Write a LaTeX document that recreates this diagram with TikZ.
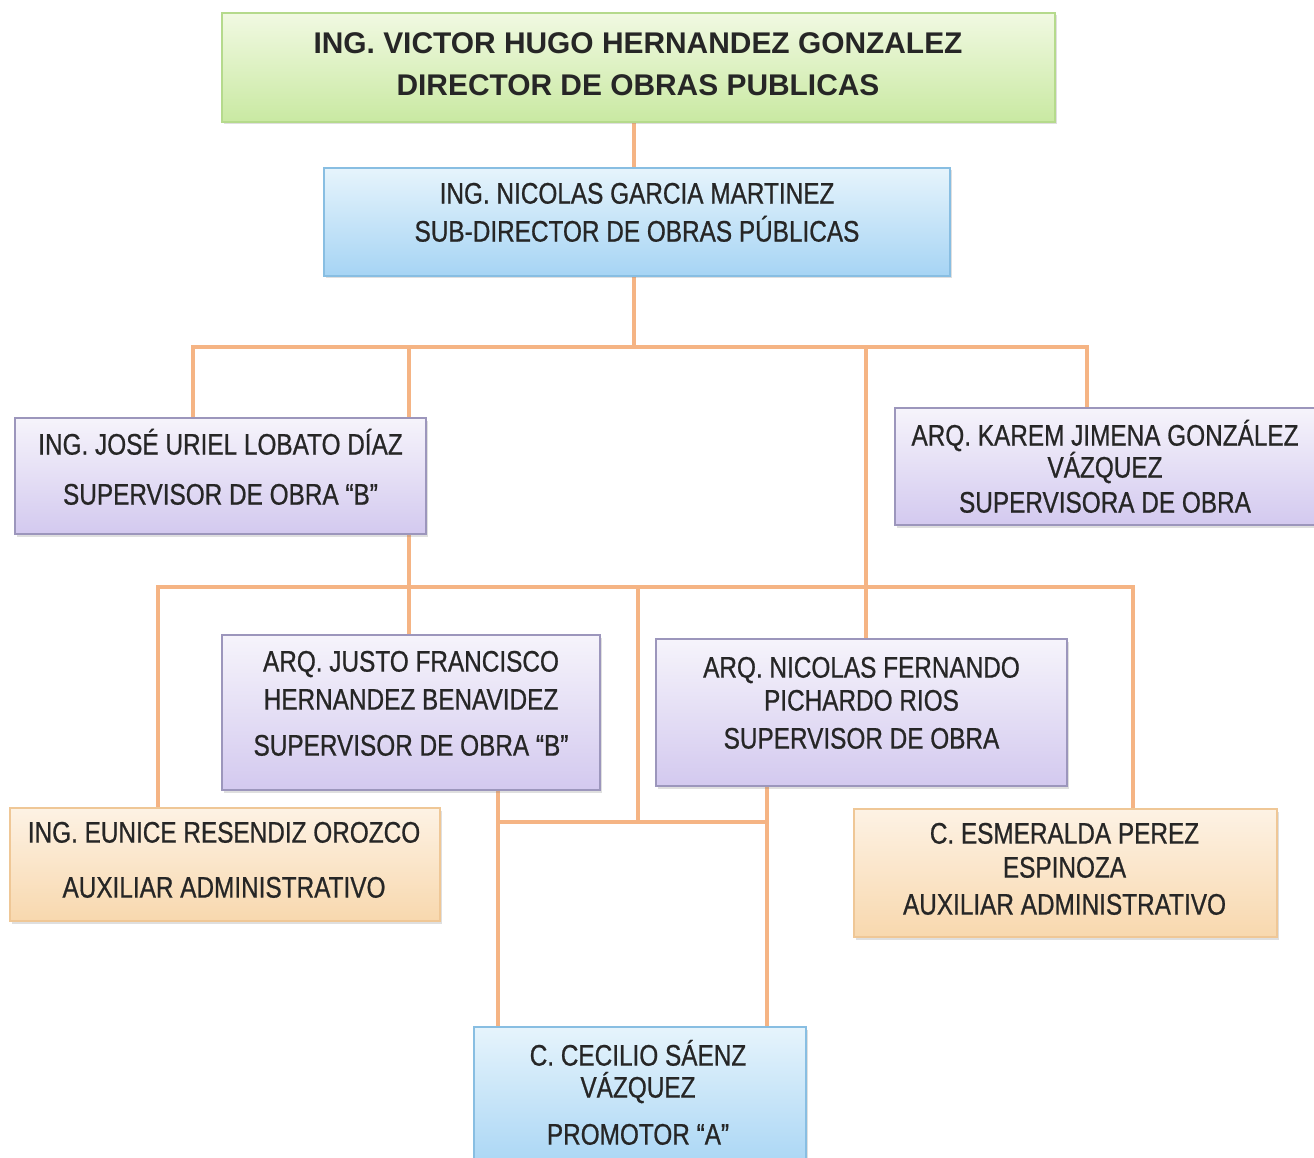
\documentclass[tikz,border=0pt]{standalone}
\usepackage{fontspec}
\setmainfont{Liberation Sans}[FakeStretch=0.82, FakeBold=0.7]
\newfontfamily\dirfont{Liberation Sans}
\usetikzlibrary{shadows,backgrounds}
\definecolor{connc}{HTML}{F5B484}
\definecolor{txtc}{HTML}{262626}
\definecolor{grnT}{HTML}{F1F9E2}
\definecolor{grnB}{HTML}{C9E9A2}
\definecolor{grnD}{HTML}{B5DA8C}
\definecolor{bluT}{HTML}{E6F4FC}
\definecolor{bluB}{HTML}{A6D4F4}
\definecolor{bluD}{HTML}{88BEE2}
\definecolor{purT}{HTML}{F6F4FB}
\definecolor{purB}{HTML}{D3C9EF}
\definecolor{purD}{HTML}{9C96BC}
\definecolor{orgT}{HTML}{FDF2E4}
\definecolor{orgB}{HTML}{F8D8AE}
\definecolor{orgD}{HTML}{EFC796}
\tikzset{
  box/.style={rectangle, line width=1.2pt, inner sep=0pt,
    drop shadow={shadow xshift=1.5pt, shadow yshift=-2.5pt, opacity=0.25}},
  greenbox/.style={box, draw=grnD, top color=grnT, bottom color=grnB},
  bluebox/.style={box, draw=bluD, top color=bluT, bottom color=bluB},
  purplebox/.style={box, draw=purD, top color=purT, bottom color=purB},
  orangebox/.style={box, draw=orgD, top color=orgT, bottom color=orgB},
  ln/.style={anchor=base, inner sep=0pt, text=txtc, font=\fontsize{29.7}{33}\selectfont},
  dln/.style={anchor=base, inner sep=0pt, text=txtc, font=\dirfont\bfseries\fontsize{29.9}{33}\selectfont},
  conn/.style={draw=connc, line width=3.5pt, line cap=rect},
}
\begin{document}
\begin{tikzpicture}[x=1pt, y=-1pt]
\clip (0,0) rectangle (1314,1158);

% boxes
\node[greenbox, minimum width=833pt, minimum height=109pt] (dir) at (638.5,67.5) {};
\node[bluebox, minimum width=626pt, minimum height=108pt] (sub) at (637,222) {};
\node[purplebox, minimum width=411pt, minimum height=116pt] (jose) at (220.5,476) {};
\node[purplebox, minimum width=425pt, minimum height=117pt] (karem) at (1107.5,466.5) {};
\node[purplebox, minimum width=378pt, minimum height=155pt] (justo) at (411,712.5) {};
\node[purplebox, minimum width=411pt, minimum height=147pt] (nic) at (861.5,712.5) {};
\node[orangebox, minimum width=430pt, minimum height=113pt] (eunice) at (225,864.5) {};
\node[orangebox, minimum width=423pt, minimum height=128pt] (esme) at (1065.5,873) {};
\node[bluebox, minimum width=332pt, minimum height=148pt] (cec) at (640,1101) {};

% text lines
\node[dln] (dir1) at (638,53.7) {ING. VICTOR HUGO HERNANDEZ GONZALEZ};
\node[dln] (dir2) at (638,95.7) {DIRECTOR DE OBRAS PUBLICAS};
\node[ln] (sub1) at (637,203.6) {ING. NICOLAS GARCIA MARTINEZ};
\node[ln] (sub2) at (637,241.6) {SUB-DIRECTOR DE OBRAS PÚBLICAS};
\node[ln] (jose1) at (220.5,454.6) {ING. JOSÉ URIEL LOBATO DÍAZ};
\node[ln] (jose2) at (220.5,504.6) {SUPERVISOR DE OBRA “B”};
\node[ln] (karem1) at (1105,445.6) {ARQ. KAREM JIMENA GONZÁLEZ};
\node[ln] (karem2) at (1105,477.6) {VÁZQUEZ};
\node[ln] (karem3) at (1105,512.6) {SUPERVISORA DE OBRA};
\node[ln] (justo1) at (411,671.6) {ARQ. JUSTO FRANCISCO};
\node[ln] (justo2) at (411,709.6) {HERNANDEZ BENAVIDEZ};
\node[ln] (justo3) at (411,755.6) {SUPERVISOR DE OBRA “B”};
\node[ln] (nic1) at (861.5,677.6) {ARQ. NICOLAS FERNANDO};
\node[ln] (nic2) at (861.5,710.6) {PICHARDO RIOS};
\node[ln] (nic3) at (861.5,748.6) {SUPERVISOR DE OBRA};
\node[ln] (eunice1) at (224,842.6) {ING. EUNICE RESENDIZ OROZCO};
\node[ln] (eunice2) at (224,897.6) {AUXILIAR ADMINISTRATIVO};
\node[ln] (esme1) at (1064.5,843.6) {C. ESMERALDA PEREZ};
\node[ln] (esme2) at (1064.5,877.6) {ESPINOZA};
\node[ln] (esme3) at (1064.5,914.6) {AUXILIAR ADMINISTRATIVO};
\node[ln] (cec1) at (638,1065.6) {C. CECILIO SÁENZ};
\node[ln] (cec2) at (638,1097.6) {VÁZQUEZ};
\node[ln] (cec3) at (638,1144.6) {PROMOTOR “A”};

% bus coordinates
\coordinate (b1w) at (193,347);
\coordinate (b1e) at (1087,347);
\coordinate (b2w) at (158,587);
\coordinate (b2e) at (1133,587);
\coordinate (b3w) at (498,822);
\coordinate (b3e) at (767,822);
\coordinate (xj) at (409,0);
\coordinate (xn) at (866,0);
\coordinate (xm) at (638,0);
\coordinate (xs) at (634,0);

\begin{pgfonlayer}{background}
\draw[conn] (dir.south -| xs) -- (sub.north -| xs);
\draw[conn] (sub.south -| xs) -- (b1w -| xs);
\draw[conn] (b1w) -- (b1e);
\draw[conn] (b1w) -- (b1w |- jose.north);
\draw[conn] (b1w -| xj) -- (jose.north -| xj);
\draw[conn] (b1e) -- (b1e |- karem.north);
\draw[conn] (b1w -| xn) -- (nic.north -| xn);
\draw[conn] (jose.south -| xj) -- (justo.north -| xj);
\draw[conn] (b2w) -- (b2e);
\draw[conn] (b2w) -- (b2w |- eunice.north);
\draw[conn] (b2e) -- (b2e |- esme.north);
\draw[conn] (b2w -| xm) -- (b3w -| xm);
\draw[conn] (b3w) -- (b3e);
\draw[conn] (justo.south -| b3w) -- (cec.north -| b3w);
\draw[conn] (nic.south -| b3e) -- (cec.north -| b3e);
\end{pgfonlayer}
\end{tikzpicture}
\end{document}
